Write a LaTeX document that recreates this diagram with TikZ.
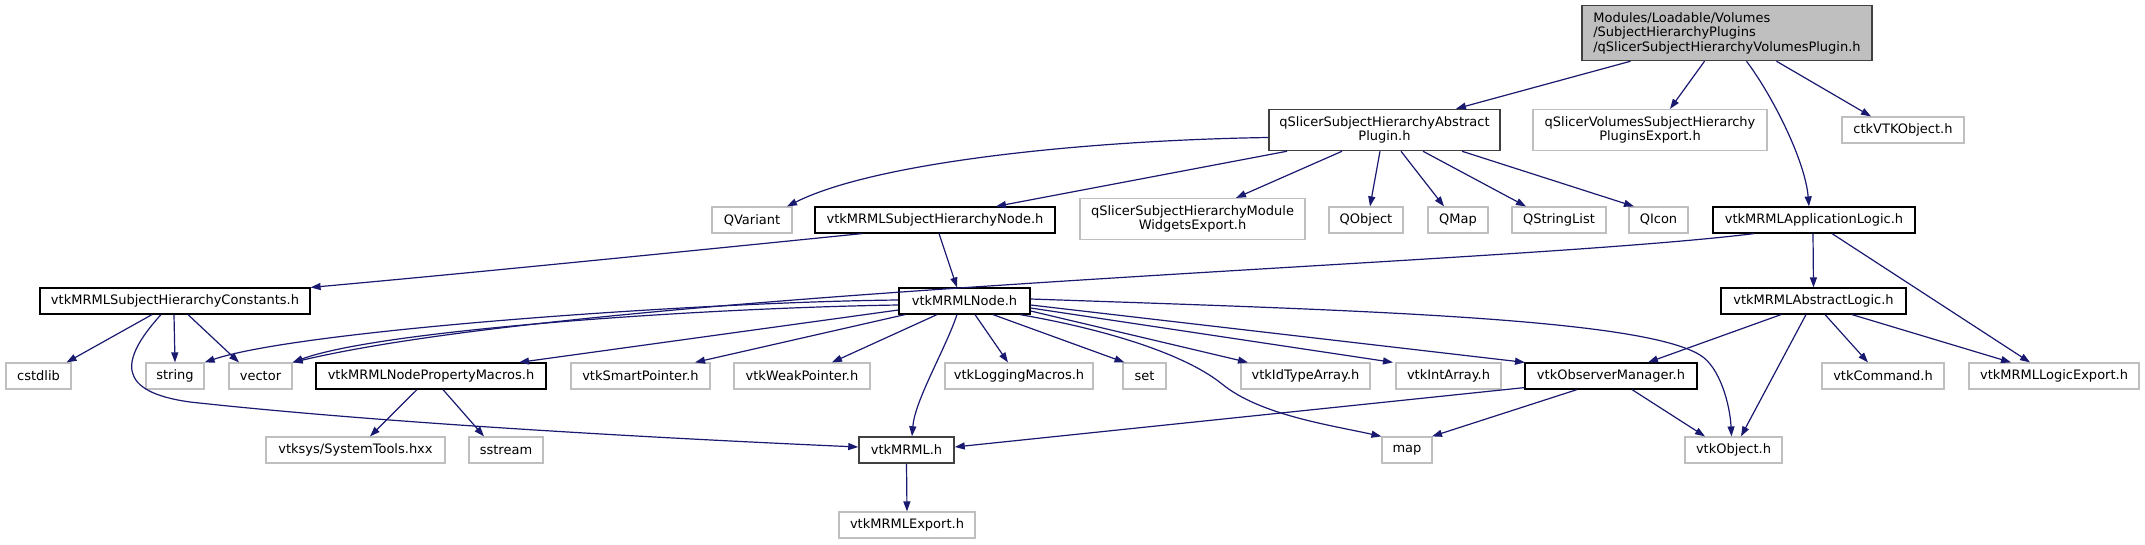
\documentclass[tikz,border=0pt]{standalone}
\usepackage{fontspec}
\setmainfont{DejaVu Sans}
\usetikzlibrary{arrows.meta}
\definecolor{edgec}{HTML}{191970}
\definecolor{lgray}{HTML}{BFBFBF}
\definecolor{dgray}{HTML}{404040}
\tikzset{
  box/.style={draw=black, line width=1.2pt, fill=white, inner sep=0pt, minimum height=26pt, align=center},
  gbox/.style={box, draw=lgray},
  dbox/.style={box, draw=dgray, line width=1.5pt},
  dep/.style={draw=edgec, line width=1.2pt, -{Triangle[length=10pt,width=7pt]}}
}
\begin{document}
\begin{tikzpicture}[x=1pt,y=-1pt,font=\fontsize{13}{14.5}\selectfont]
\fill[white] (0,0) rectangle (2145,544);
\useasboundingbox (0,0) rectangle (2145,544);
% row 0/1
\node[dbox, fill=lgray, minimum width=290pt, minimum height=55pt, align=left] (top) at (1727,33) {Modules/Loadable/Volumes\\/SubjectHierarchyPlugins\\/qSlicerSubjectHierarchyVolumesPlugin.h};
\node[dbox, minimum width=231pt, minimum height=41pt] (abs) at (1384.5,130) {qSlicerSubjectHierarchyAbstract\\Plugin.h};
\node[gbox, minimum width=234pt, minimum height=41pt] (volexp) at (1650,130) {qSlicerVolumesSubjectHierarchy\\PluginsExport.h};
\node[gbox, minimum width=122pt] (ctk) at (1903,130) {ctkVTKObject.h};
% row 2
\node[gbox, minimum width=80pt] (qvariant) at (752,220) {QVariant};
\node[box, minimum width=240pt] (shnode) at (935,220) {vtkMRMLSubjectHierarchyNode.h};
\node[gbox, minimum width=225pt, minimum height=41pt] (modexp) at (1192.5,219) {qSlicerSubjectHierarchyModule\\WidgetsExport.h};
\node[gbox, minimum width=74pt] (qobject) at (1366,220) {QObject};
\node[gbox, minimum width=60pt] (qmap) at (1458,220) {QMap};
\node[gbox, minimum width=94pt] (qstringlist) at (1559,220) {QStringList};
\node[gbox, minimum width=59pt] (qicon) at (1658.5,220) {QIcon};
\node[box, minimum width=202pt] (applogic) at (1814,220) {vtkMRMLApplicationLogic.h};
% row 3
\node[box, minimum width=270pt] (constants) at (175,301) {vtkMRMLSubjectHierarchyConstants.h};
\node[box, minimum width=131pt] (mrmlnode) at (964.5,301) {vtkMRMLNode.h};
\node[box, minimum width=185pt] (abslogic) at (1813.5,301) {vtkMRMLAbstractLogic.h};
% row 4
\node[gbox, minimum width=65pt] (cstdlib) at (38.5,376) {cstdlib};
\node[gbox, minimum width=58pt] (string) at (175,376) {string};
\node[gbox, minimum width=63pt] (vector) at (260.5,376) {vector};
\node[box, minimum width=230pt] (propmacros) at (431,376) {vtkMRMLNodePropertyMacros.h};
\node[gbox, minimum width=139pt] (smartptr) at (640.5,376) {vtkSmartPointer.h};
\node[gbox, minimum width=136pt] (weakptr) at (802,376) {vtkWeakPointer.h};
\node[gbox, minimum width=148pt] (logging) at (1019,376) {vtkLoggingMacros.h};
\node[gbox, minimum width=43pt] (set) at (1144.5,376) {set};
\node[gbox, minimum width=129pt] (idtype) at (1305.5,376) {vtkIdTypeArray.h};
\node[gbox, minimum width=105pt] (intarray) at (1448.5,376) {vtkIntArray.h};
\node[box, minimum width=172pt] (obsmgr) at (1611,376) {vtkObserverManager.h};
\node[gbox, minimum width=122pt] (vtkcommand) at (1883,376) {vtkCommand.h};
\node[gbox, minimum width=170pt] (logicexp) at (2054,376) {vtkMRMLLogicExport.h};
% row 5
\node[gbox, minimum width=179pt] (systools) at (355.5,450) {vtksys/SystemTools.hxx};
\node[gbox, minimum width=74pt] (sstream) at (506,450) {sstream};
\node[dbox, minimum width=95pt] (mrmlh) at (906.5,450) {vtkMRML.h};
\node[gbox, minimum width=50pt] (map) at (1407,450) {map};
\node[gbox, minimum width=97pt] (vtkobject) at (1733.5,450) {vtkObject.h};
% row 6
\node[gbox, minimum width=136pt] (mrmlexport) at (907,525) {vtkMRMLExport.h};

% edges from top
\draw[dep] ([xshift=-96.5pt]top.south) -- ([xshift=71.5pt]abs.north);
\draw[dep] ([xshift=-22.5pt]top.south) -- ([xshift=20pt]volexp.north);
\draw[dep] ([xshift=19.5pt]top.south) .. controls (1772,95) and (1805,160) .. ([xshift=-5pt]applogic.north);
\draw[dep] ([xshift=49.5pt]top.south) -- ([xshift=-32pt]ctk.north);
% edges from abstract plugin
\draw[dep] ([yshift=-7.5pt]abs.west) .. controls (1100,140) and (880,160) .. ([xshift=35pt]qvariant.north);
\draw[dep] ([xshift=-97.5pt]abs.south) -- ([xshift=61pt]shnode.north);
\draw[dep] ([xshift=-42.5pt]abs.south) -- ([xshift=43.5pt]modexp.north);
\draw[dep] ([xshift=-4.5pt]abs.south) -- ([xshift=4pt]qobject.north);
\draw[dep] ([xshift=16.5pt]abs.south) -- ([xshift=-14pt]qmap.north);
\draw[dep] ([xshift=38.5pt]abs.south) -- ([xshift=-33pt]qstringlist.north);
\draw[dep] ([xshift=77.5pt]abs.south) -- ([xshift=-24.5pt]qicon.north);
% edges from application logic
\draw[dep] ([xshift=-60pt]applogic.south) .. controls (1500,265) and (600,290) .. (vector.north east);
\draw[dep] ([xshift=-1pt]applogic.south) -- (abslogic.north);
\draw[dep] ([xshift=18pt]applogic.south) -- ([xshift=-24pt]logicexp.north);
% edges from subject hierarchy node
\draw[dep] ([xshift=-73pt]shnode.south) .. controls (700,250) and (450,275) .. (constants.north east);
\draw[dep] ([xshift=4pt]shnode.south) -- ([xshift=-7.5pt]mrmlnode.north);
% edges from constants
\draw[dep] ([xshift=-23pt]constants.south) -- ([xshift=28pt]cstdlib.north);
\draw[dep] ([xshift=-1pt]constants.south) -- (string.north);
\draw[dep] ([xshift=13pt]constants.south) -- ([xshift=-21.5pt]vector.north);
\draw[dep] ([xshift=-14pt]constants.south) .. controls (118,362) and (118,392) .. (190,402) .. controls (400,425) and (700,440) .. ([yshift=3pt]mrmlh.west);
% edges from vtkMRMLNode
\draw[dep] ([yshift=1pt]mrmlnode.west) .. controls (700,302) and (300,330) .. (string.north east);
\draw[dep] ([yshift=-4pt]mrmlnode.west) .. controls (700,308) and (380,330) .. (vector.north east);
\draw[dep] ([yshift=-9pt]mrmlnode.west) -- ([xshift=88pt]propmacros.north);
\draw[dep] ([xshift=-59.5pt]mrmlnode.south) -- ([xshift=54.5pt]smartptr.north);
\draw[dep] ([xshift=-27.5pt]mrmlnode.south) -- ([xshift=30pt]weakptr.north);
\draw[dep] ([xshift=-7.5pt]mrmlnode.south) .. controls (945,350) and (915,400) .. ([xshift=5.5pt]mrmlh.north);
\draw[dep] ([xshift=10.5pt]mrmlnode.south) -- ([xshift=-11pt]logging.north);
\draw[dep] ([xshift=28.5pt]mrmlnode.south) -- ([xshift=-20pt]set.north);
\draw[dep] ([xshift=55.5pt]mrmlnode.south) .. controls (1120,332) and (1190,358) .. (1222,384) .. controls (1260,415) and (1330,425) .. (map.north west);
\draw[dep] ([yshift=-10pt]mrmlnode.east) -- ([xshift=-57.5pt]idtype.north);
\draw[dep] ([yshift=-7pt]mrmlnode.east) -- ([xshift=-55.5pt]intarray.north);
\draw[dep] ([yshift=-4pt]mrmlnode.east) -- ([xshift=-86pt]obsmgr.north);
\draw[dep] ([yshift=2pt]mrmlnode.east) .. controls (1350,310) and (1640,318) .. (1700,355) .. controls (1720,367) and (1730,405) .. ([xshift=-2pt]vtkobject.north);
% edges from property macros
\draw[dep] ([xshift=-14pt]propmacros.south) -- ([xshift=14.5pt]systools.north);
\draw[dep] ([xshift=12pt]propmacros.south) -- ([xshift=-22pt]sstream.north);
% vtkMRML.h
\draw[dep] (mrmlh.south) -- (mrmlexport.north);
% edges from abstract logic
\draw[dep] ([xshift=-32.5pt]abslogic.south) -- ([xshift=37pt]obsmgr.north);
\draw[dep] ([xshift=-7.5pt]abslogic.south) -- ([xshift=7.5pt]vtkobject.north);
\draw[dep] ([xshift=11.5pt]abslogic.south) -- ([xshift=-15pt]vtkcommand.north);
\draw[dep] ([xshift=38.5pt]abslogic.south) -- ([xshift=-43pt]logicexp.north);
% edges from observer manager
\draw[dep] ([yshift=2pt]obsmgr.south west) -- ([yshift=3pt]mrmlh.east);
\draw[dep] ([xshift=-34pt]obsmgr.south) -- ([xshift=25pt]map.north);
\draw[dep] ([xshift=21pt]obsmgr.south) -- ([xshift=-28.5pt]vtkobject.north);
\end{tikzpicture}
\end{document}
